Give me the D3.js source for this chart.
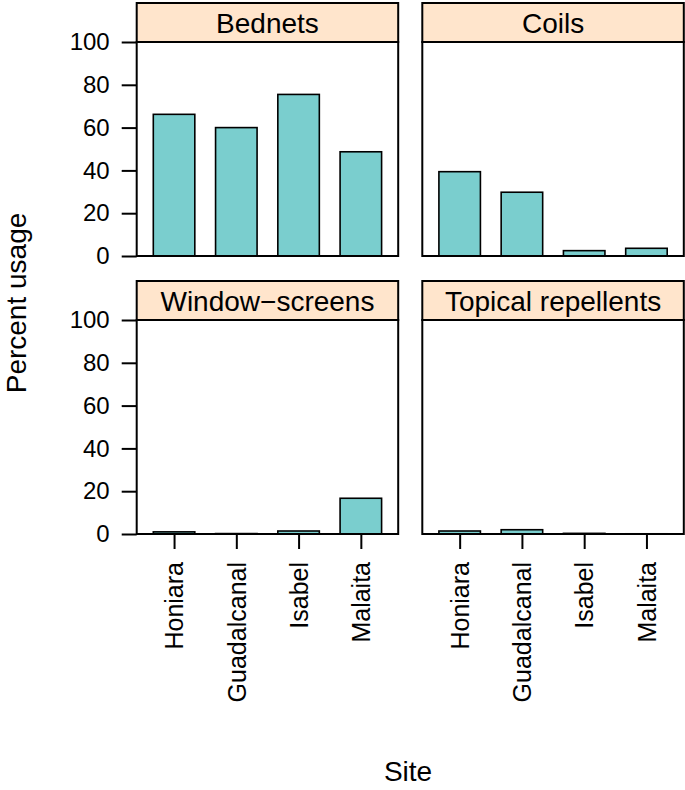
<!DOCTYPE html>
<meta charset="utf-8">
<style>
body { margin: 0; background: #fff; }
text { font-family: "Liberation Sans", Arial, Helvetica, sans-serif; fill: #000; }
.frame { fill: none; stroke: #000; stroke-width: 2px; }
.bar { fill: #7acece; stroke: #000; stroke-width: 1.6px; }
.strip { fill: #ffe5cc; stroke: #000; stroke-width: 2px; }
</style>
<body>
<script src="https://d3js.org/d3.v7.min.js"></script>
<script>

// data
var sites = ["Honiara", "Guadalcanal", "Isabel", "Malaita"];
var methods = ["Bednets", "Coils", "Window\u2212screens", "Topical repellents"];
var bednets = [66.2, 60.0, 75.5, 48.7];
var coils = [39.4, 29.8, 2.5, 3.6];
var screens = [1.0, 0.2, 1.4, 16.7];
var repellents = [1.4, 2.0, 0.3, 0.1];
var yTicks = [0, 20, 40, 60, 80, 100];

var values = [bednets, coils, screens, repellents];

// layout
var width = 685, height = 790;
var colLeft = [136.7, 422.3], panelW = 261.5;
var stripTop = [3, 281], stripH = 39, panelH = 214;

var svg = d3.select("body").append("svg")
    .attr("width", width)
    .attr("height", height);

var x = d3.scalePoint().domain(sites).padding(0.6);
var y = d3.scaleLinear().domain([0, 100]);

methods.forEach(function(m, i) {
  var col = i % 2, row = Math.floor(i / 2);
  var left = colLeft[col];
  var top = stripTop[row] + stripH;
  var bottom = top + panelH;

  x.range([left, left + panelW]);
  y.range([bottom, top]);
  var bw = x.step() * 2 / 3;

  var g = svg.append("g");

  // bars
  g.selectAll(".bar")
      .data(values[i])
    .enter().append("rect")
      .attr("class", "bar")
      .attr("x", function(d, j) { return x(sites[j]) - bw / 2; })
      .attr("width", bw)
      .attr("y", function(d) { return y(d); })
      .attr("height", function(d) { return y(0) - y(d); });

  // panel frame
  g.append("rect")
      .attr("class", "frame")
      .attr("x", left).attr("y", top)
      .attr("width", panelW).attr("height", panelH);

  // strip
  g.append("rect")
      .attr("class", "strip")
      .attr("x", left).attr("y", stripTop[row])
      .attr("width", panelW).attr("height", stripH);
  g.append("text")
      .attr("x", left + panelW / 2)
      .attr("y", stripTop[row] + 30)
      .attr("text-anchor", "middle")
      .style("font-size", "28px")
      .text(m);

  // left axis on first column
  if (col === 0) {
    var ya = g.append("g")
        .attr("transform", "translate(" + left + ",0)")
        .call(d3.axisLeft(y).tickValues(yTicks).tickSize(15).tickPadding(12));
    ya.select(".domain").remove();
    ya.selectAll("line").attr("stroke-width", 2);
    ya.selectAll("text").style("font-size", "24px");
  }

  // bottom axis on last row
  if (row === 1) {
    var xa = g.append("g")
        .attr("transform", "translate(0," + bottom + ")")
        .call(d3.axisBottom(x).tickSize(15).tickPadding(12));
    xa.select(".domain").remove();
    xa.selectAll("line").attr("stroke-width", 2);
    xa.selectAll("text")
        .style("font-size", "25px")
        .attr("text-anchor", "end")
        .attr("transform", "rotate(-90)")
        .attr("x", -28)
        .attr("y", 0)
        .attr("dy", "0.35em");
  }
});

// axis titles
svg.append("text")
    .attr("x", 408)
    .attr("y", 781)
    .attr("text-anchor", "middle")
    .style("font-size", "28px")
    .text("Site");

svg.append("text")
    .attr("transform", "translate(26,303) rotate(-90)")
    .attr("text-anchor", "middle")
    .style("font-size", "28px")
    .text("Percent usage");

</script>
</body>
